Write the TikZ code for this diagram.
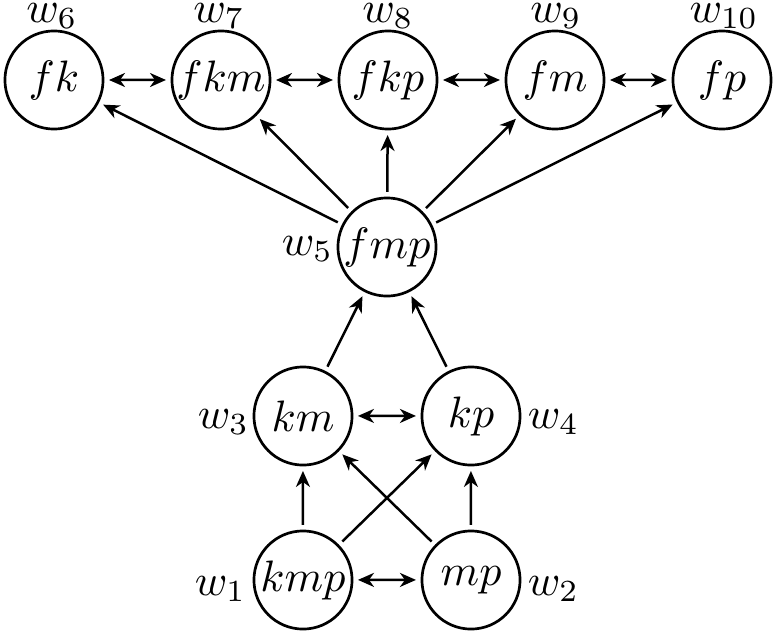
\documentclass[tikz,border=0pt]{standalone}
\usetikzlibrary{arrows.meta}
\tikzset{
  st/.style={circle, draw, line width=2.7pt, minimum size=22.3pt, inner sep=0pt},
  lab/.style={inner sep=0pt},
  arr/.style={line width=2.5pt, -{Stealth[length=16pt,width=14pt,inset=5pt]}},
  barr/.style={line width=2.5pt, {Stealth[length=16pt,width=14pt,inset=5pt]}-{Stealth[length=16pt,width=14pt,inset=5pt]}}
}
\begin{document}
\begin{tikzpicture}[x=0.227273pt,y=-0.227273pt,scale=4.4,every node/.style={transform shape}]
\useasboundingbox (0,0) rectangle (777,637);
% nodes
\node[st] (fk)  at (54,80)  {$fk$};
\node[st] (fkm) at (221,80) {$fkm$};
\node[st] (fkp) at (388,80) {$fkp$};
\node[st] (fm)  at (555,80) {$fm$};
\node[st] (fp)  at (722,80) {$fp$};
\node[st] (fmp) at (387,247) {$fmp$};
\node[st] (km)  at (303,416) {$km$};
\node[st] (kp)  at (471,416) {$kp$};
\node[st] (kmp) at (303,580) {$kmp$};
\node[st] (mp)  at (471,580) {$mp$};
% labels
\node[lab,anchor=base] (l6)  at (52,22)  {$w_6$};
\node[lab,anchor=base] (l7)  at (219,22) {$w_7$};
\node[lab,anchor=base] (l8)  at (388,22) {$w_8$};
\node[lab,anchor=base] (l9)  at (556,22) {$w_9$};
\node[lab,anchor=base] (l10) at (724,22) {$w_{10}$};
\node[lab,anchor=base east] (l5) at (334,255) {$w_5$};
\node[lab,anchor=base east] (l3) at (250,428) {$w_3$};
\node[lab,anchor=base west] (l4) at (527,428) {$w_4$};
\node[lab,anchor=base east] (l1) at (247,595) {$w_1$};
\node[lab,anchor=base west] (l2) at (527,595) {$w_2$};
% edges
\draw[barr] (fk) -- (fkm);
\draw[barr] (fkm) -- (fkp);
\draw[barr] (fkp) -- (fm);
\draw[barr] (fm) -- (fp);
\draw[arr] (fmp) -- (fk);
\draw[arr] (fmp) -- (fkm);
\draw[arr] (fmp) -- (fkp);
\draw[arr] (fmp) -- (fm);
\draw[arr] (fmp) -- (fp);
\draw[arr] (km) -- (fmp);
\draw[arr] (kp) -- (fmp);
\draw[barr] (km) -- (kp);
\draw[arr] (kmp) -- (km);
\draw[arr] (kmp) -- (kp);
\draw[arr] (mp) -- (km);
\draw[arr] (mp) -- (kp);
\draw[barr] (kmp) -- (mp);
\end{tikzpicture}
\end{document}
